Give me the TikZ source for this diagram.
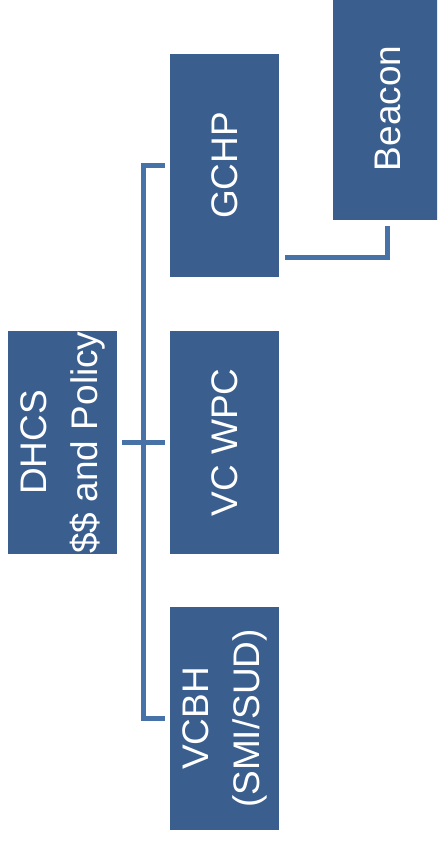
\documentclass[tikz,border=0pt]{standalone}
\usepackage{fontspec}
\setmainfont{Liberation Sans}
\usetikzlibrary{calc}
\definecolor{boxblue}{HTML}{3A5F8F}
\definecolor{lineblue}{HTML}{4672A8}
\begin{document}
\begin{tikzpicture}[x=1pt,y=-1pt,
  orgbox/.style={fill=boxblue, draw=none, minimum width=223pt, minimum height=109pt,
    rotate=90, text=white, font=\fontsize{37}{51}\selectfont, align=center, inner sep=0pt},
  conn/.style={draw=lineblue, line width=4.5pt}]
\useasboundingbox (0,0) rectangle (437,841);
\clip (0,0) rectangle (437,841);
\node[orgbox] (dhcs) at (62.5,442.5) {DHCS\\\$\$ and Policy};
\node[orgbox] (gchp) at (224.5,165.5) {GCHP};
\node[orgbox] (vcwpc) at (224.5,442.5) {VC WPC};
\node[orgbox] (vcbh) at (224.5,718.5) {VCBH\\(SMI/SUD)};
\node[orgbox] (beacon) at (387.5,108.5) {Beacon};
\coordinate (tr) at ($(dhcs.south)!0.5!(vcwpc.north)$);
\draw[conn, shorten <=5pt, shorten >=5pt] (dhcs.south) -- (vcwpc.north);
\draw[conn, shorten <=5pt, shorten >=5pt] (gchp.north) -- (tr |- gchp.north) -- (tr |- vcbh.north) -- (vcbh.north);
\draw[conn, shorten <=6pt, shorten >=6pt] ([yshift=-92pt]gchp.south) -| (beacon.west);
\end{tikzpicture}
\end{document}
